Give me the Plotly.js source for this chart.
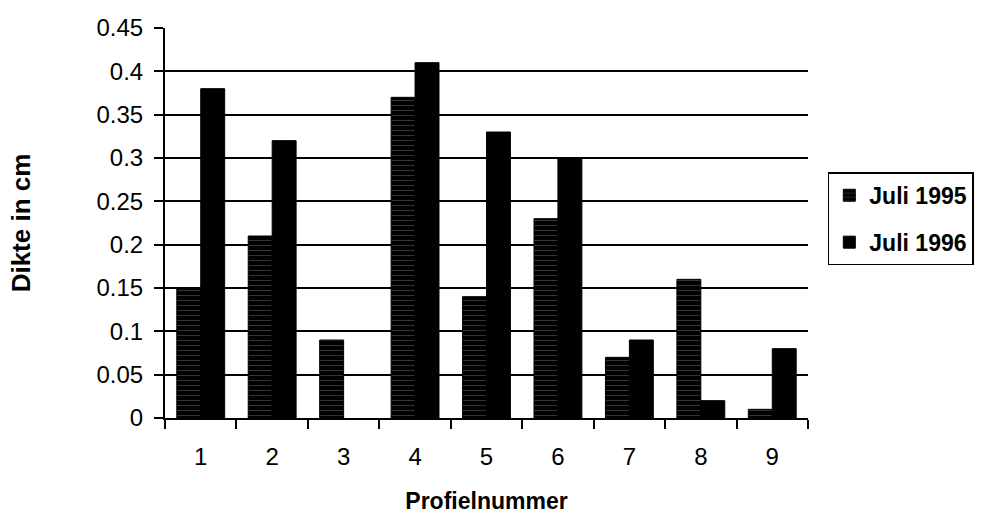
<!DOCTYPE html>
<html>
<head>
<meta charset="utf-8">
<script src="https://cdn.plot.ly/plotly-3.0.1.min.js"></script>
<style>
  html, body { margin: 0; padding: 0; background: #fff; }
  #chart { width: 982px; height: 519px; }
</style>
</head>
<body>
<div id="chart"></div>
<script>
// Profile numbers along the x axis
const profielen = ['1', '2', '3', '4', '5', '6', '7', '8', '9'];
// Layer thickness (cm) per profile
const juli1995 = [0.15, 0.21, 0.09, 0.37, 0.14, 0.23, 0.07, 0.16, 0.01];
const juli1996 = [0.38, 0.32, null, 0.41, 0.33, 0.30, 0.09, 0.02, 0.08];
const yTicks = [0, 0.05, 0.1, 0.15, 0.2, 0.25, 0.3, 0.35, 0.4, 0.45];

const font = 'Liberation Sans, Arial, sans-serif';

const traces = [
  {
    type: 'bar', name: 'Juli 1995', x: profielen, y: juli1995,
    legendgroup: 'a',
    marker: {
      color: '#000',
      line: { color: '#000', width: 1 },
      pattern: { shape: '-', fgcolor: '#6a6a6a', bgcolor: '#000', size: 5, solidity: 0.1 }
    }
  },
  {
    type: 'bar', name: 'Juli 1996', x: profielen, y: juli1996,
    legendgroup: 'b',
    marker: { color: '#000', line: { color: '#000', width: 1 } }
  }
];

const layout = {
  width: 982, height: 519,
  margin: { l: 165, r: 174, t: 28, b: 101 },
  paper_bgcolor: '#fff', plot_bgcolor: '#fff',
  font: { family: font, color: '#000', size: 24 },
  barmode: 'group', bargap: 0.33, bargroupgap: 0,
  showlegend: true,
  legend: {
    xref: 'container', yref: 'container',
    x: 0.843, xanchor: 'left', y: 0.668, yanchor: 'top',
    bordercolor: '#000', borderwidth: 1.5, bgcolor: '#fff',
    font: { family: font, size: 23, weight: 'bold' },
    itemwidth: 30,
    traceorder: 'grouped', tracegroupgap: 14
  },
  xaxis: {
    type: 'category', tickson: 'boundaries',
    showline: true, linecolor: '#000', linewidth: 2,
    ticks: 'outside', ticklen: 9, tickcolor: '#000', tickwidth: 2,
    ticklabelstandoff: 16,
    showgrid: false, zeroline: false,
    title: { text: 'Profielnummer', font: { family: font, size: 23, weight: 'bold' }, standoff: 24 }
  },
  yaxis: {
    range: [0, 0.45], tickvals: yTicks, ticktext: yTicks.map(String),
    showline: true, linecolor: '#000', linewidth: 2,
    ticks: 'outside', ticklen: 9, tickcolor: '#000', tickwidth: 2,
    ticklabelstandoff: 6,
    showgrid: true, gridcolor: '#000', gridwidth: 1.8,
    zeroline: false,
    title: { text: 'Dikte in cm', font: { family: font, size: 26, weight: 'bold' }, standoff: 58 }
  }
};

Plotly.newPlot('chart', traces, layout, { displayModeBar: false, staticPlot: true });
</script>
</body>
</html>
